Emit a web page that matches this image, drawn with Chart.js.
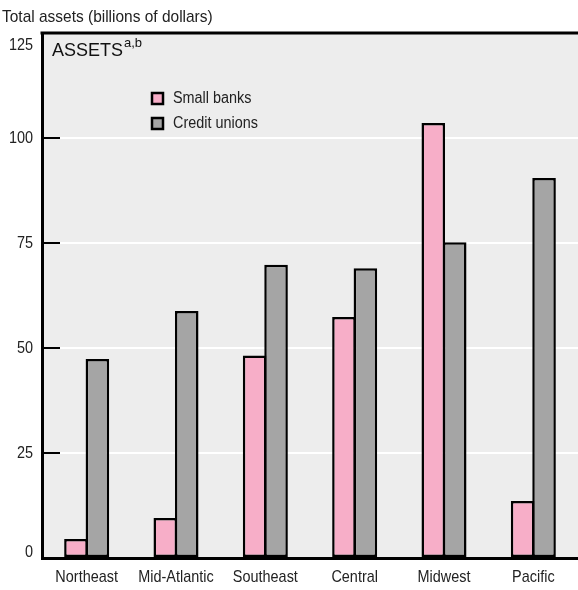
<!DOCTYPE html>
<html>
<head>
<meta charset="UTF-8">
<style>
  body { margin: 0; background: #fff; }
  #wrap { width: 578px; height: 590px; position: relative; }
</style>
</head>
<body>
<div id="wrap"><canvas id="chart" width="578" height="590"></canvas></div>
<script src="https://cdn.jsdelivr.net/npm/chart.js@4.4.1/dist/chart.umd.min.js"></script>
<script>
  const regions = ['Northeast', 'Mid-Atlantic', 'Southeast', 'Central', 'Midwest', 'Pacific']
  const smallBanks = [4.5, 9.5, 48.2, 57.4, 103.6, 13.6]
  const creditUnions = [47.4, 58.8, 69.8, 69, 75.2, 90.5]
  const yTicks = [0, 25, 50, 75, 100, 125]

  const sans = "'Liberation Sans', Arial, sans-serif"
  const pink = '#f7aec8'
  const grey = '#a5a5a5'

  // no condensed font installed, so squeeze Liberation Sans sideways
  function narrowText(ctx, text, x, y, size, squeeze, align) {
    ctx.save()
    ctx.font = size + 'px ' + sans
    const w = ctx.measureText(text).width * squeeze
    let left = x
    if (align === 'right') left = x - w
    if (align === 'center') left = x - w / 2
    ctx.translate(left, y)
    ctx.scale(squeeze, 1)
    ctx.textAlign = 'left'
    ctx.fillText(text, 0, 0)
    ctx.restore()
  }

  const decor = {
    id: 'decor',
    beforeDraw(chart) {
      const { ctx, chartArea: a } = chart
      ctx.save()
      ctx.fillStyle = '#ededed'
      ctx.fillRect(a.left, a.top, chart.width - a.left, a.bottom - a.top)
      ctx.restore()
    },
    afterDraw(chart) {
      const { ctx, chartArea: a } = chart
      const y = chart.scales.y
      const x = chart.scales.x
      ctx.save()
      ctx.strokeStyle = '#000'
      ctx.lineWidth = 3
      ctx.beginPath()
      ctx.moveTo(a.left - 1.5, a.top)
      ctx.lineTo(chart.width, a.top)
      ctx.stroke()

      // tick marks sit inside the plot, labels outside
      ctx.lineWidth = 2
      ctx.fillStyle = '#222'
      ctx.textBaseline = 'middle'
      yTicks.forEach(v => {
        const py = y.getPixelForValue(v)
        ctx.beginPath()
        ctx.moveTo(a.left, py)
        ctx.lineTo(a.left + 18, py)
        ctx.stroke()
        const ly = Math.min(Math.max(py, a.top + 12), a.bottom - 6)
        narrowText(ctx, String(v), a.left - 9, ly, 17, 0.85, 'right')
      })

      regions.forEach((r, i) => {
        narrowText(ctx, r, x.getPixelForValue(i), a.bottom + 19, 17, 0.85, 'center')
      })

      ctx.textBaseline = 'alphabetic'
      narrowText(ctx, 'Total assets (billions of dollars)', 2, 22, 17, 0.91, 'left')

      ctx.fillStyle = '#111'
      ctx.font = '18px ' + sans
      ctx.fillText('ASSETS', 52, 56)
      const w = ctx.measureText('ASSETS').width
      ctx.font = '13px ' + sans
      ctx.fillText('a,b', 52 + w + 1, 47)

      chart.data.datasets.forEach((ds, i) => {
        const cy = 99 + i * 25
        ctx.fillStyle = ds.backgroundColor
        ctx.fillRect(152, cy - 6, 11, 11)
        ctx.strokeStyle = '#000'
        ctx.lineWidth = 2.5
        ctx.strokeRect(152, cy - 6, 11, 11)
        ctx.fillStyle = '#222'
        ctx.textBaseline = 'middle'
        narrowText(ctx, ds.label, 173, cy, 16, 0.9, 'left')
      })
      ctx.restore()
    }
  }

  const ctx = document.getElementById('chart').getContext('2d')
  const chart = new Chart(ctx, {
    type: 'bar',
    data: {
      labels: regions,
      datasets: [
        { label: 'Small banks', data: smallBanks, backgroundColor: pink },
        { label: 'Credit unions', data: creditUnions, backgroundColor: grey }
      ]
    },
    options: {
      responsive: false,
      animation: false,
      devicePixelRatio: 1,
      layout: { padding: { top: 33, right: 0, left: 0, bottom: 0 } },
      datasets: {
        bar: {
          borderColor: '#000',
          borderWidth: 2.5,
          borderSkipped: false,
          categoryPercentage: 0.48,
          barPercentage: 1.1
        }
      },
      plugins: {
        legend: { display: false },
        tooltip: { enabled: false }
      },
      scales: {
        x: {
          grid: { display: false, drawTicks: false },
          border: { color: '#000', width: 3 },
          ticks: { display: false },
          afterFit: s => { s.height = 32 }
        },
        y: {
          min: 0,
          max: 125,
          afterBuildTicks: s => { s.ticks = yTicks.map(v => ({ value: v })) },
          grid: {
            color: c => (c.tick.value === 0 || c.tick.value === 125) ? 'rgba(0,0,0,0)' : '#ffffff',
            lineWidth: 2,
            drawTicks: false
          },
          border: { color: '#000', width: 3 },
          ticks: { display: false },
          afterFit: s => { s.width = 42 }
        }
      }
    },
    plugins: [decor]
  })
</script>
</body>
</html>
